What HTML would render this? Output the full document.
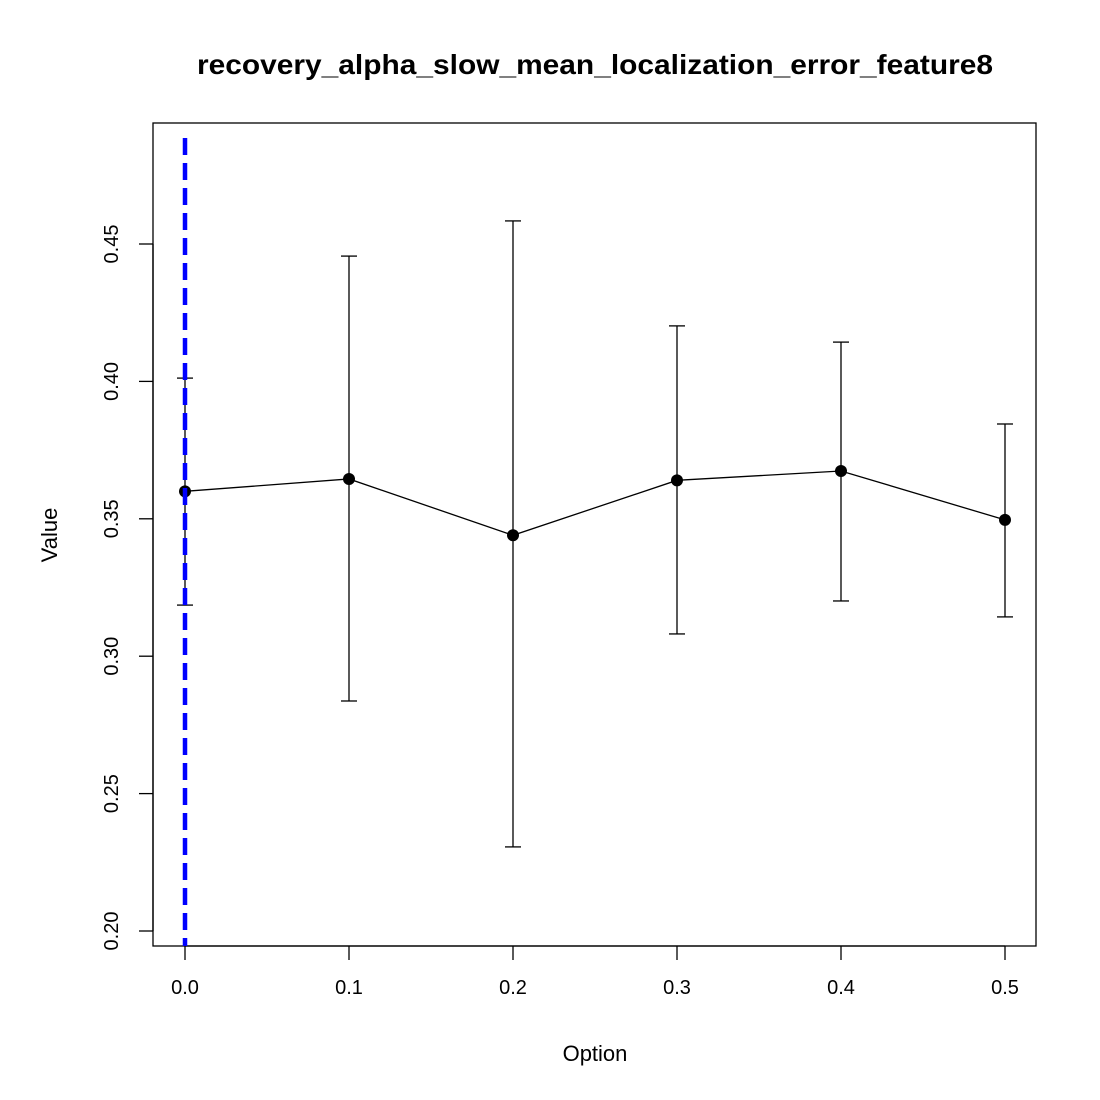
<!DOCTYPE html>
<html><head><meta charset="utf-8"><style>
html,body{margin:0;padding:0;background:#fff;}
svg{display:block;font-family:"Liberation Sans",Arial,sans-serif;}
</style></head><body>
<svg id="chart" width="1100" height="1100" viewBox="0 0 1100 1100">
<text x="595" y="74" text-anchor="middle" font-size="28" font-weight="bold" textLength="796" lengthAdjust="spacingAndGlyphs">recovery_alpha_slow_mean_localization_error_feature8</text>
<rect x="153" y="123" width="883" height="823" fill="none" stroke="#000" stroke-width="1.3"/>
<g id="xaxis"></g>
<g id="yaxis"></g>
<text x="595" y="1061" text-anchor="middle" font-size="22">Option</text>
<text transform="translate(57,535) rotate(-90)" text-anchor="middle" font-size="22">Value</text>
<g id="marks"></g>
</svg>
<script>
const options = [0.0, 0.1, 0.2, 0.3, 0.4, 0.5];
const means = [0.360, 0.3645, 0.344, 0.364, 0.3674, 0.3496];
const uppers = [0.4012, 0.4456, 0.4584, 0.4202, 0.4143, 0.3845];
const lowers = [0.3186, 0.2837, 0.2306, 0.3081, 0.3201, 0.3143];
const xTicks = [0.0, 0.1, 0.2, 0.3, 0.4, 0.5];
const xTickLabels = ["0.0", "0.1", "0.2", "0.3", "0.4", "0.5"];
const yTicks = [0.20, 0.25, 0.30, 0.35, 0.40, 0.45];
const yTickLabels = ["0.20", "0.25", "0.30", "0.35", "0.40", "0.45"];
const refLine = [0.0];

const NS = "http://www.w3.org/2000/svg";
const xs = v => 185 + (v - 0) * 1640;
const ys = v => 931 - (v - 0.20) * 2748;
function mk(tag, attrs, parent) {
  const e = document.createElementNS(NS, tag);
  for (const k in attrs) e.setAttribute(k, attrs[k]);
  parent.appendChild(e);
  return e;
}
const xg = document.getElementById('xaxis'), yg = document.getElementById('yaxis'), mg = document.getElementById('marks');
mk('line', {x1: xs(xTicks[0]), x2: xs(xTicks[xTicks.length-1]), y1: 946, y2: 946, stroke: '#000', 'stroke-width': 1.3}, xg);
xTicks.forEach((t, i) => {
  const l = mk('line', {x1: xs(t), x2: xs(t), y1: 946, y2: 960, stroke: '#000', 'stroke-width': 1.3}, xg);
  
  
  const tx = mk('text', {x: xs(t), y: 994, 'text-anchor': 'middle', 'font-size': 20}, xg);
  tx.textContent = xTickLabels[i];
  
  
});
mk('line', {x1: 153, x2: 153, y1: ys(yTicks[0]), y2: ys(yTicks[yTicks.length-1]), stroke: '#000', 'stroke-width': 1.3}, yg);
yTicks.forEach((t, i) => {
  const l = mk('line', {x1: 139, x2: 153, y1: ys(t), y2: ys(t), stroke: '#000', 'stroke-width': 1.3}, yg);
  
  
  const tx = mk('text', {transform: `translate(118,${ys(t)}) rotate(-90)`, 'text-anchor': 'middle', 'font-size': 20}, yg);
  tx.textContent = yTickLabels[i];
  
  
});
options.forEach((o, i) => {
  const g = mk('g', {}, mg);
  
  
  const x = xs(o);
  mk('line', {x1: x, x2: x, y1: ys(uppers[i]), y2: ys(lowers[i]), stroke: '#000', 'stroke-width': 1.3}, g);
  mk('line', {x1: x-8, x2: x+8, y1: ys(uppers[i]), y2: ys(uppers[i]), stroke: '#000', 'stroke-width': 1.3}, g);
  mk('line', {x1: x-8, x2: x+8, y1: ys(lowers[i]), y2: ys(lowers[i]), stroke: '#000', 'stroke-width': 1.3}, g);
});
const pl = mk('polyline', {points: options.map((o, i) => xs(o) + ',' + ys(means[i])).join(' '), fill: 'none', stroke: '#000', 'stroke-width': 1.3}, mg);


options.forEach((o, i) => {
  const c = mk('circle', {cx: xs(o), cy: ys(means[i]), r: 6, fill: '#000'}, mg);
  
  
});
refLine.forEach(v => {
  const l = mk('line', {x1: xs(v), x2: xs(v), y1: 138, y2: 946, stroke: '#0000ff', 'stroke-width': 4.5, 'stroke-dasharray': '17,8'}, mg);
  
  
});
</script>
</body></html>
